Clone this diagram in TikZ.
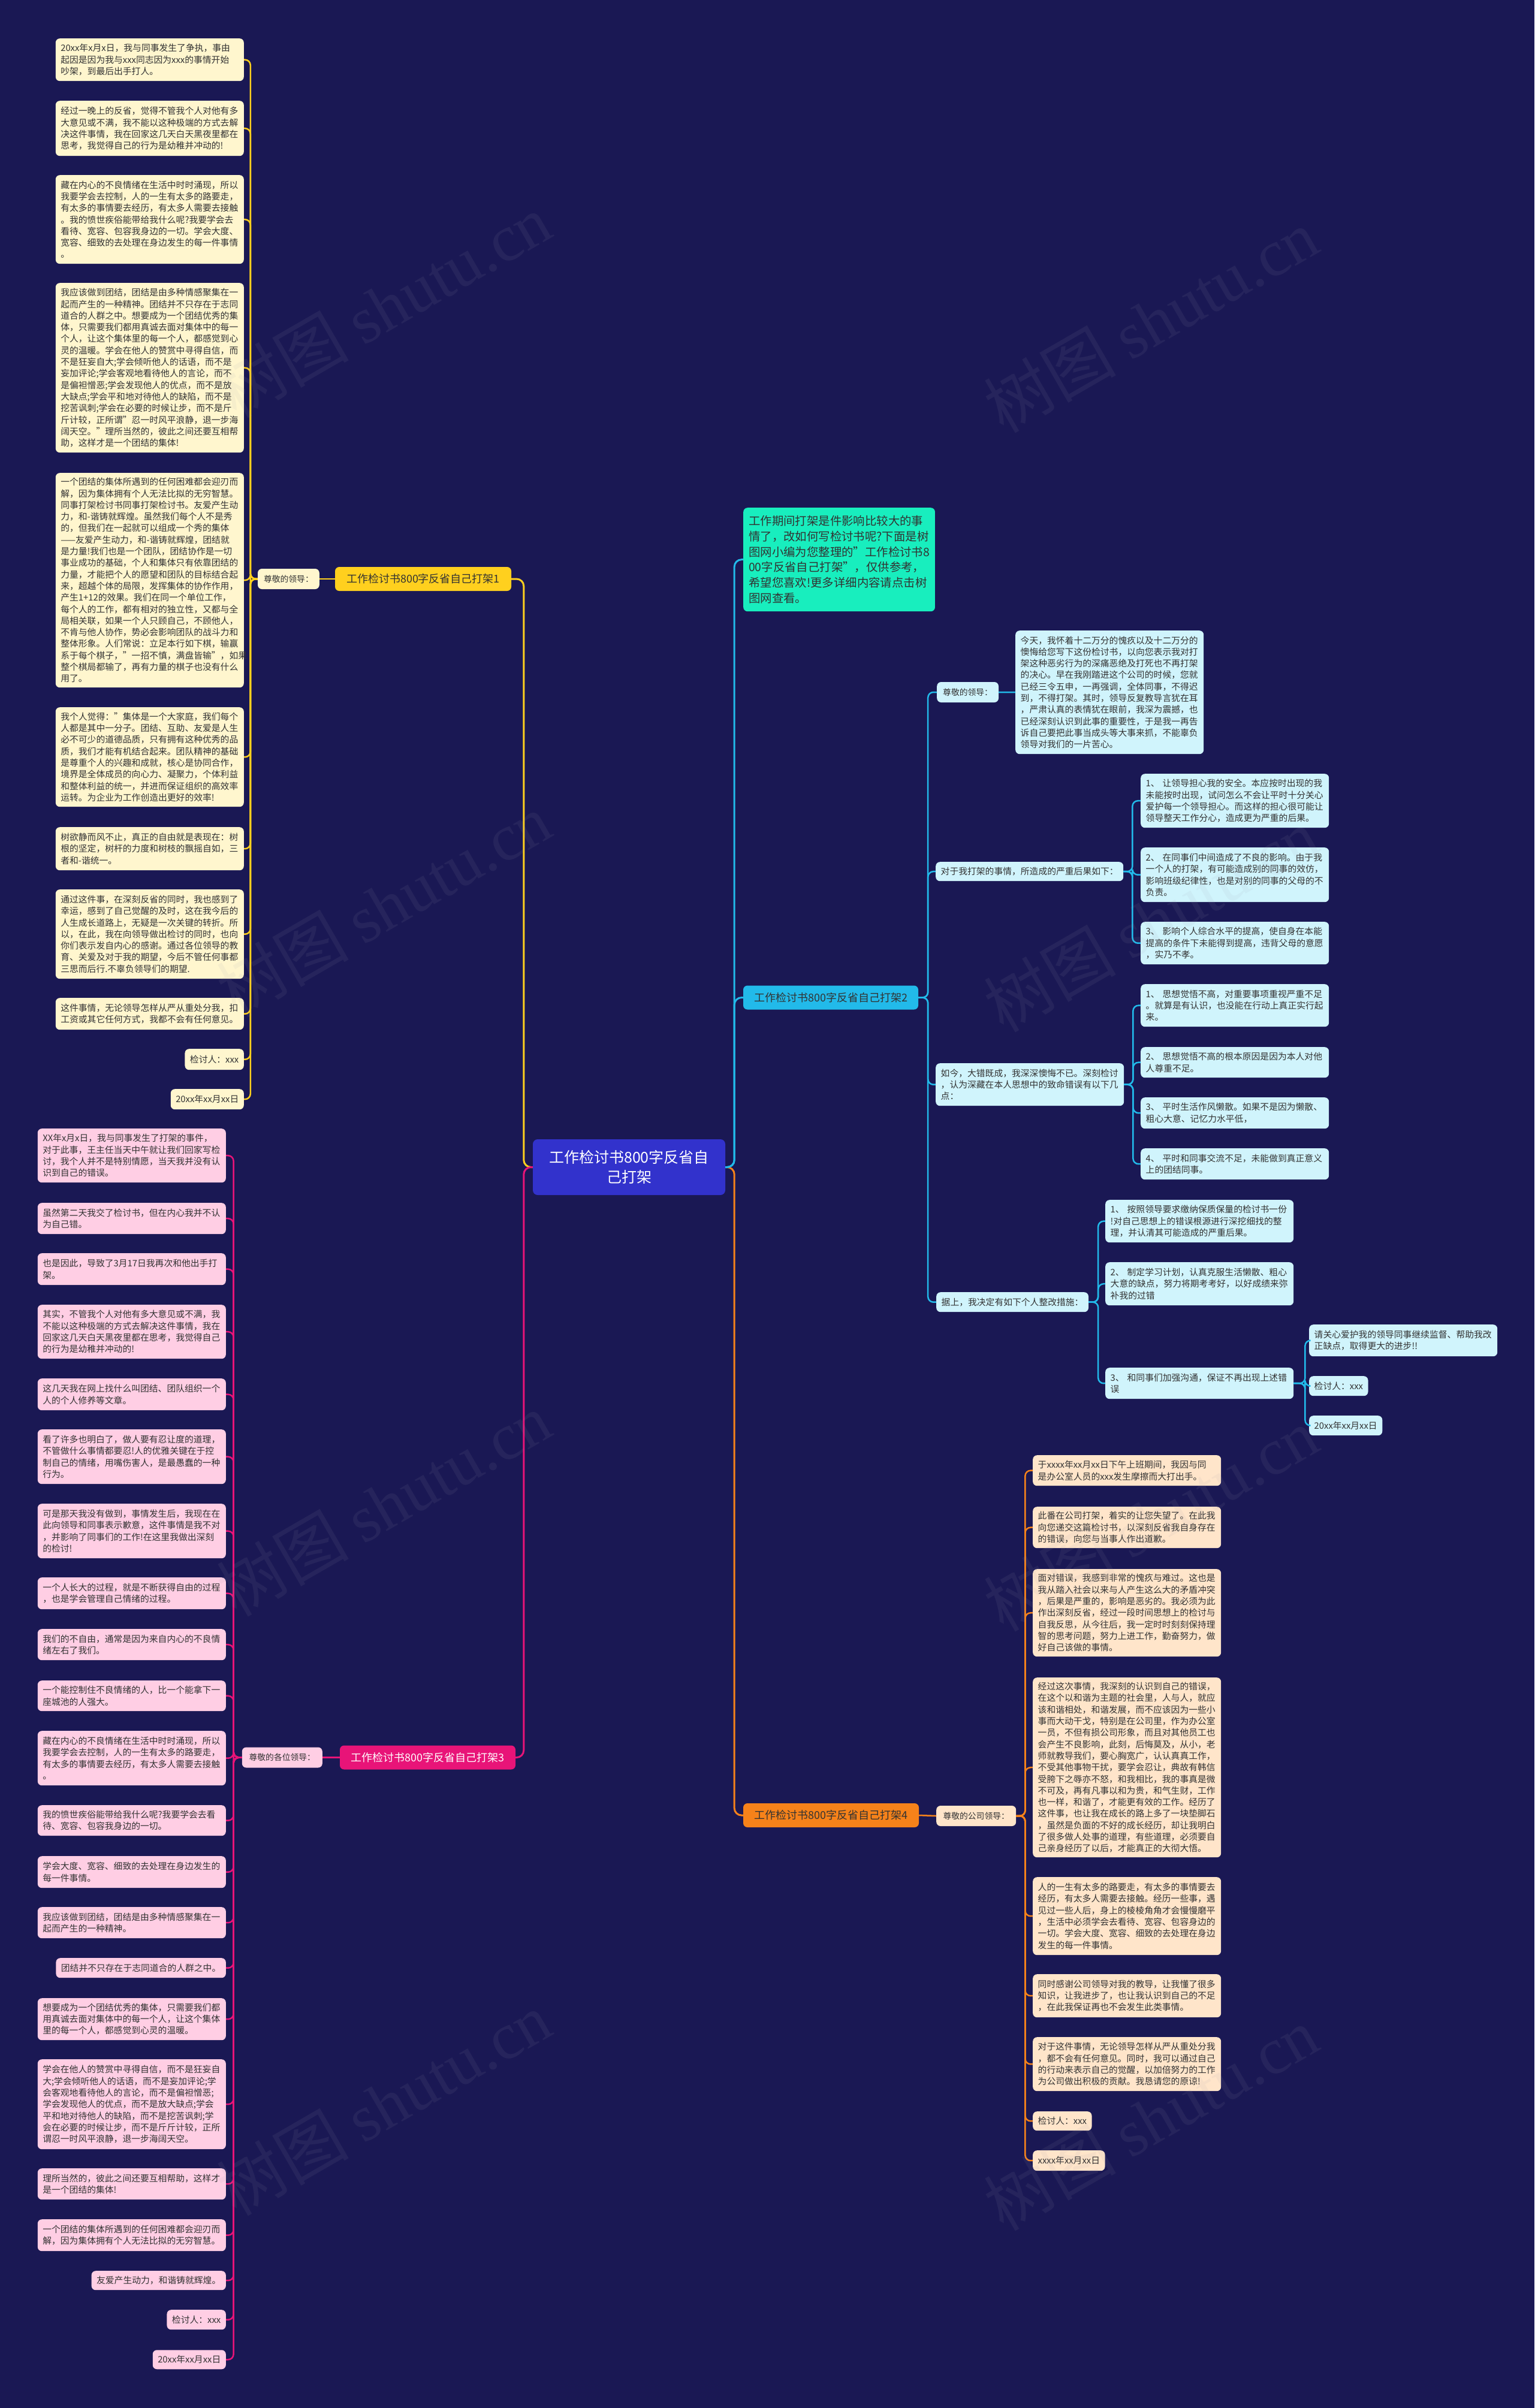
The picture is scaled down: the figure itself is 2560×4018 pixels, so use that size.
\documentclass[tikz,border=0pt]{standalone}
\usepackage{fontspec}
\setmainfont{Noto Sans CJK SC}
\newfontfamily\wmserif{Liberation Serif}
\definecolor{bg}{RGB}{26,24,84}
\definecolor{cen}{RGB}{50,50,204}
\definecolor{grn}{RGB}{24,238,190}
\definecolor{yel}{RGB}{255,208,30}
\definecolor{yelf}{RGB}{255,246,206}
\definecolor{cya}{RGB}{34,186,234}
\definecolor{cyaf}{RGB}{208,244,252}
\definecolor{mag}{RGB}{232,20,120}
\definecolor{magf}{RGB}{255,206,228}
\definecolor{org}{RGB}{246,130,26}
\definecolor{orgf}{RGB}{255,229,202}
\definecolor{txt}{RGB}{50,50,50}
\newcommand\lfnt{\fontsize{14.8}{19.3}\selectfont}
\newcommand\gfnt{\fontsize{13.8}{18}\selectfont}
\newcommand\brfnt{\fontsize{18}{22}\selectfont}
\newcommand\connL[4]{\draw[lc,#1] (#2.west) -- ++(-#4,0) |- (#3.east);}
\newcommand\connR[4]{\draw[lc,#1] (#2.east) -- ++(#4,0) |- (#3.west);}
\tikzset{
  lc/.style={line width=2.5pt, rounded corners=9pt},
  mainc/.style={line width=3pt, rounded corners=12pt},
  box/.style={rounded corners=7pt, align=left, inner xsep=8.5pt, inner ysep=0pt, text=txt, font=\lfnt},
  wide/.style={text width=297pt},
  lfL/.style={box, anchor=north east},
  lfR/.style={box, anchor=north west},
  yl/.style={lfL, fill=yelf},
  pl/.style={lfL, fill=magf},
  cl/.style={lfR, fill=cyaf},
  ol/.style={lfR, fill=orgf},
  greet/.style={rounded corners=7pt, inner xsep=10pt, inner ysep=0pt, text=txt, font=\gfnt, minimum height=34pt},
  brn/.style={rounded corners=7pt, inner xsep=10pt, inner ysep=0pt, font=\brfnt, minimum height=40pt},
  wm/.style={rotate=30, text={rgb,255:red,160;green,160;blue,175}, opacity=0.09, font=\fontsize{110}{110}\selectfont}
}
\begin{document}
\begin{tikzpicture}[x=1pt,y=-1pt]
\path[use as bounding box] (0,0) rectangle (2560,4018);
\fill[bg] (0,0) rectangle (2560,4018);

% ---------------- center and main branches
\node[fill=cen, text=white, rounded corners=8pt, align=center, font=\fontsize{25}{33}\selectfont, minimum width=321pt, minimum height=93pt, inner sep=0pt] (c) at (1049.5,1947.5) {工作检讨书800字反省自\\己打架};
\node[brn, fill=yel, text=txt, minimum width=294pt] (b1) at (706,966) {工作检讨书800字反省自己打架1};
\node[brn, fill=cya, text=txt, minimum width=292pt] (b2) at (1386,1664.5) {工作检讨书800字反省自己打架2};
\node[brn, fill=mag, text=white, minimum width=293pt] (b3) at (713.5,2932.5) {工作检讨书800字反省自己打架3};
\node[brn, fill=org, text=txt, minimum width=293pt] (b4) at (1386.5,3029) {工作检讨书800字反省自己打架4};
\node[rounded corners=7pt, fill=grn, text=txt, align=left, anchor=north west, minimum width=316pt, minimum height=173pt, inner xsep=9pt, inner ysep=0pt, font=\fontsize{19.4}{25.7}\selectfont] (gr) at (1240,847) {工作期间打架是件影响比较大的事\\情了，改如何写检讨书呢?下面是树\\图网小编为您整理的"工作检讨书8\\00字反省自己打架"，仅供参考，\\希望您喜欢!更多详细内容请点击树\\图网查看。};

\draw[mainc, yel] (c.west) -- ++(-15,0) |- (b1.east);
\draw[mainc, mag] (c.west) -- ++(-15,0) |- (b3.east);
\draw[mainc, org] (c.east) -- ++(15,0) |- (b4.west);
\draw[mainc, cya] (c.east) -- ++(15,0) |- (b2.west);
\draw[mainc, cya] (c.east) -- ++(15,0) |- (gr.west);

% ---------------- branch 1
\node[greet, fill=yelf, anchor=east, minimum width=101pt] (g1) at (533,966) {尊敬的领导：};
\draw[lc, yel] (b1.west) -- (g1.east);
\node[yl, wide, minimum height=71pt] (a1) at (407,64) {20xx年x月x日，我与同事发生了争执，事由\\起因是因为我与xxx同志因为xxx的事情开始\\吵架，到最后出手打人。};
\node[yl, wide, minimum height=92pt] (a2) at (407,168) {经过一晚上的反省，觉得不管我个人对他有多\\大意见或不满，我不能以这种极端的方式去解\\决这件事情，我在回家这几天白天黑夜里都在\\思考，我觉得自己的行为是幼稚并冲动的!};
\node[yl, wide, minimum height=148pt] (a3) at (407,292) {藏在内心的不良情绪在生活中时时涌现，所以\\我要学会去控制，人的一生有太多的路要走，\\有太多的事情要去经历，有太多人需要去接触\\。我的愤世疾俗能带给我什么呢?我要学会去\\看待、宽容、包容我身边的一切。学会大度、\\宽容、细致的去处理在身边发生的每一件事情\\。};
\node[yl, wide, minimum height=283pt] (a4) at (407,472) {我应该做到团结，团结是由多种情感聚集在一\\起而产生的一种精神。团结并不只存在于志同\\道合的人群之中。想要成为一个团结优秀的集\\体，只需要我们都用真诚去面对集体中的每一\\个人，让这个集体里的每一个人，都感觉到心\\灵的温暖。学会在他人的赞赏中寻得自信，而\\不是狂妄自大;学会倾听他人的话语，而不是\\妄加评论;学会客观地看待他人的言论，而不\\是偏袒憎恶;学会发现他人的优点，而不是放\\大缺点;学会平和地对待他人的缺陷，而不是\\挖苦讽刺;学会在必要的时候让步，而不是斤\\斤计较，正所谓"忍一时风平浪静，退一步海\\阔天空。"理所当然的，彼此之间还要互相帮\\助，这样才是一个团结的集体!};
\node[yl, wide, minimum height=358pt] (a5) at (407,789) {一个团结的集体所遇到的任何困难都会迎刃而\\解，因为集体拥有个人无法比拟的无穷智慧。\\同事打架检讨书同事打架检讨书。友爱产生动\\力，和-谐铸就辉煌。虽然我们每个人不是秀\\的，但我们在一起就可以组成一个秀的集体\\——友爱产生动力，和-谐铸就辉煌，团结就\\是力量!我们也是一个团队，团结协作是一切\\事业成功的基础，个人和集体只有依靠团结的\\力量，才能把个人的愿望和团队的目标结合起\\来，超越个体的局限，发挥集体的协作作用，\\产生1+12的效果。我们在同一个单位工作，\\每个人的工作，都有相对的独立性，又都与全\\局相关联，如果一个人只顾自己，不顾他人，\\不肯与他人协作，势必会影响团队的战斗力和\\整体形象。人们常说：立足本行如下棋，输赢\\系于每个棋子，"一招不慎，满盘皆输"，如果\\整个棋局都输了，再有力量的棋子也没有什么\\用了。};
\node[yl, wide, minimum height=166pt] (a6) at (407,1180) {我个人觉得："集体是一个大家庭，我们每个\\人都是其中一分子。团结、互助、友爱是人生\\必不可少的道德品质，只有拥有这种优秀的品\\质，我们才能有机结合起来。团队精神的基础\\是尊重个人的兴趣和成就，核心是协同合作，\\境界是全体成员的向心力、凝聚力，个体利益\\和整体利益的统一，并进而保证组织的高效率\\运转。为企业为工作创造出更好的效率!};
\node[yl, wide, minimum height=72pt] (a7) at (407,1380) {树欲静而风不止，真正的自由就是表现在：树\\根的坚定，树杆的力度和树枝的飘摇自如，三\\者和-谐统一。};
\node[yl, wide, minimum height=149pt] (a8) at (407,1484) {通过这件事，在深刻反省的同时，我也感到了\\幸运，感到了自己觉醒的及时，这在我今后的\\人生成长道路上，无疑是一次关键的转折。所\\以，在此，我在向领导做出检讨的同时，也向\\你们表示发自内心的感谢。通过各位领导的教\\育、关爱及对于我的期望，今后不管任何事都\\三思而后行.不辜负领导们的期望.};
\node[yl, wide, minimum height=53pt] (a9) at (407,1665) {这件事情，无论领导怎样从严从重处分我，扣\\工资或其它任何方式，我都不会有任何意见。};
\node[yl, minimum height=35pt] (a10) at (407,1750) {检讨人：xxx};
\node[yl, minimum height=34pt] (a11) at (407,1817) {20xx年xx月xx日};
\foreach \n in {a1,a2,a3,a4,a5,a6,a7,a8,a9,a10,a11} {\connL{yel}{g1}{\n}{12}}

% ---------------- branch 3
\node[greet, fill=magf, anchor=east, minimum width=134pt] (g3) at (538,2932.5) {尊敬的各位领导：};
\draw[lc, mag] (b3.west) -- (g3.east);
\node[pl, wide, minimum height=90pt] (p1) at (377,1883) {XX年x月x日，我与同事发生了打架的事件，\\对于此事，王主任当天中午就让我们回家写检\\讨，我个人并不是特别情愿，当天我并没有认\\识到自己的错误。};
\node[pl, wide, minimum height=52pt] (p2) at (377,2007) {虽然第二天我交了检讨书，但在内心我并不认\\为自己错。};
\node[pl, wide, minimum height=53pt] (p3) at (377,2091) {也是因此，导致了3月17日我再次和他出手打\\架。};
\node[pl, wide, minimum height=90pt] (p4) at (377,2177) {其实，不管我个人对他有多大意见或不满，我\\不能以这种极端的方式去解决这件事情，我在\\回家这几天白天黑夜里都在思考，我觉得自己\\的行为是幼稚并冲动的!};
\node[pl, wide, minimum height=53pt] (p5) at (377,2300) {这几天我在网上找什么叫团结、团队组织一个\\人的个人修养等文章。};
\node[pl, wide, minimum height=91pt] (p6) at (377,2385) {看了许多也明白了，做人要有忍让度的道理，\\不管做什么事情都要忍!人的优雅关键在于控\\制自己的情绪，用嘴伤害人，是最愚蠢的一种\\行为。};
\node[pl, wide, minimum height=91pt] (p7) at (377,2509) {可是那天我没有做到，事情发生后，我现在在\\此向领导和同事表示歉意，这件事情是我不对\\，并影响了同事们的工作!在这里我做出深刻\\的检讨!};
\node[pl, wide, minimum height=53pt] (p8) at (377,2632) {一个人长大的过程，就是不断获得自由的过程\\，也是学会管理自己情绪的过程。};
\node[pl, wide, minimum height=52pt] (p9) at (377,2718) {我们的不自由，通常是因为来自内心的不良情\\绪左右了我们。};
\node[pl, wide, minimum height=51pt] (p10) at (377,2804) {一个能控制住不良情绪的人，比一个能拿下一\\座城池的人强大。};
\node[pl, wide, minimum height=91pt] (p11) at (377,2888) {藏在内心的不良情绪在生活中时时涌现，所以\\我要学会去控制，人的一生有太多的路要走，\\有太多的事情要去经历，有太多人需要去接触\\。};
\node[pl, wide, minimum height=51pt] (p12) at (377,3012) {我的愤世疾俗能带给我什么呢?我要学会去看\\待、宽容、包容我身边的一切。};
\node[pl, wide, minimum height=53pt] (p13) at (377,3097) {学会大度、宽容、细致的去处理在身边发生的\\每一件事情。};
\node[pl, wide, minimum height=52pt] (p14) at (377,3182) {我应该做到团结，团结是由多种情感聚集在一\\起而产生的一种精神。};
\node[pl, minimum height=33pt] (p15) at (377,3267) {团结并不只存在于志同道合的人群之中。};
\node[pl, wide, minimum height=70pt] (p16) at (377,3334) {想要成为一个团结优秀的集体，只需要我们都\\用真诚去面对集体中的每一个人，让这个集体\\里的每一个人，都感觉到心灵的温暖。};
\node[pl, wide, minimum height=150pt] (p17) at (377,3436) {学会在他人的赞赏中寻得自信，而不是狂妄自\\大;学会倾听他人的话语，而不是妄加评论;学\\会客观地看待他人的言论，而不是偏袒憎恶;\\学会发现他人的优点，而不是放大缺点;学会\\平和地对待他人的缺陷，而不是挖苦讽刺;学\\会在必要的时候让步，而不是斤斤计较，正所\\谓忍一时风平浪静，退一步海阔天空。};
\node[pl, wide, minimum height=52pt] (p18) at (377,3618) {理所当然的，彼此之间还要互相帮助，这样才\\是一个团结的集体!};
\node[pl, wide, minimum height=53pt] (p19) at (377,3703) {一个团结的集体所遇到的任何困难都会迎刃而\\解，因为集体拥有个人无法比拟的无穷智慧。};
\node[pl, minimum height=32pt] (p20) at (377,3789) {友爱产生动力，和谐铸就辉煌。};
\node[pl, minimum height=33pt] (p21) at (377,3854) {检讨人：xxx};
\node[pl, minimum height=32pt] (p22) at (377,3921) {20xx年xx月xx日};
\foreach \n in {p1,p2,p3,p4,p5,p6,p7,p8,p9,p10,p11,p12,p13,p14,p15,p16,p17,p18,p19,p20,p21,p22} {\connL{mag}{g3}{\n}{14}}

% ---------------- branch 2
\node[greet, fill=cyaf, anchor=west, minimum width=101pt] (g2) at (1563,1155) {尊敬的领导：};
\node[cl, wide, minimum height=206pt] (k0) at (1694,1052) {今天，我怀着十二万分的愧疚以及十二万分的\\懊悔给您写下这份检讨书，以向您表示我对打\\架这种恶劣行为的深痛恶绝及打死也不再打架\\的决心。早在我刚踏进这个公司的时候，您就\\已经三令五申，一再强调，全体同事，不得迟\\到，不得打架。其时，领导反复教导言犹在耳\\，严肃认真的表情犹在眼前，我深为震撼，也\\已经深刻认识到此事的重要性，于是我一再告\\诉自己要把此事当成头等大事来抓，不能辜负\\领导对我们的一片苦心。};
\draw[lc, cya] (g2.east) -- (k0.west);
\node[cl, minimum height=32pt] (dy) at (1561,1438) {对于我打架的事情，所造成的严重后果如下：};
\node[cl, wide, minimum height=90pt] (dy1) at (1903,1291) {1、 让领导担心我的安全。本应按时出现的我\\未能按时出现，试问怎么不会让平时十分关心\\爱护每一个领导担心。而这样的担心很可能让\\领导整天工作分心，造成更为严重的后果。};
\node[cl, wide, minimum height=91pt] (dy2) at (1903,1414) {2、 在同事们中间造成了不良的影响。由于我\\一个人的打架，有可能造成别的同事的效仿，\\影响班级纪律性，也是对别的同事的父母的不\\负责。};
\node[cl, wide, minimum height=71pt] (dy3) at (1903,1538) {3、 影响个人综合水平的提高，使自身在本能\\提高的条件下未能得到提高，违背父母的意愿\\，实乃不孝。};
\node[cl, wide, minimum height=71pt] (rj) at (1561,1774) {如今，大错既成，我深深懊悔不已。深刻检讨\\，认为深藏在本人思想中的致命错误有以下几\\点：};
\node[cl, wide, minimum height=71pt] (rj1) at (1903,1642) {1、 思想觉悟不高，对重要事项重视严重不足\\。就算是有认识，也没能在行动上真正实行起\\来。};
\node[cl, wide, minimum height=51pt] (rj2) at (1903,1747) {2、 思想觉悟不高的根本原因是因为本人对他\\人尊重不足。};
\node[cl, wide, minimum height=52pt] (rj3) at (1903,1831) {3、 平时生活作风懒散。如果不是因为懒散、\\粗心大意、记忆力水平低，};
\node[cl, wide, minimum height=52pt] (rj4) at (1903,1916) {4、 平时和同事交流不足，未能做到真正意义\\上的团结同事。};
\node[cl, minimum height=33pt] (js) at (1562,2156) {据上，我决定有如下个人整改措施：};
\node[cl, wide, minimum height=71pt] (js1) at (1844,2002) {1、 按照领导要求缴纳保质保量的检讨书一份\\!对自己思想上的错误根源进行深挖细找的整\\理，并认清其可能造成的严重后果。};
\node[cl, wide, minimum height=72pt] (js2) at (1844,2106) {2、 制定学习计划，认真克服生活懒散、粗心\\大意的缺点，努力将期考考好，以好成绩来弥\\补我的过错};
\node[cl, wide, minimum height=52pt] (js3) at (1844,2282) {3、 和同事们加强沟通，保证不再出现上述错\\误};
\node[cl, wide, minimum height=53pt] (s1) at (2184,2210) {请关心爱护我的领导同事继续监督、帮助我改\\正缺点，取得更大的进步!!};
\node[cl, minimum height=33pt] (s2) at (2184,2296) {检讨人：xxx};
\node[cl, minimum height=33pt] (s3) at (2184,2362) {20xx年xx月xx日};
\foreach \n in {g2,dy,rj,js} {\connR{cya}{b2}{\n}{16}}
\foreach \n in {dy1,dy2,dy3} {\connR{cya}{dy}{\n}{15}}
\foreach \n in {rj1,rj2,rj3,rj4} {\connR{cya}{rj}{\n}{15}}
\foreach \n in {js1,js2,js3} {\connR{cya}{js}{\n}{16}}
\foreach \n in {s1,s2,s3} {\connR{cya}{js3}{\n}{19}}

% ---------------- branch 4
\node[greet, fill=orgf, anchor=west, minimum width=133pt] (g4) at (1562,3030) {尊敬的公司领导：};
\draw[lc, org] (b4.east) -- (g4.west);
\node[ol, wide, minimum height=51pt] (o1) at (1723,2428) {于xxxx年xx月xx日下午上班期间，我因与同\\是办公室人员的xxx发生摩擦而大打出手。};
\node[ol, wide, minimum height=69pt] (o2) at (1723,2514) {此番在公司打架，着实的让您失望了。在此我\\向您递交这篇检讨书，以深刻反省我自身存在\\的错误，向您与当事人作出道歉。};
\node[ol, wide, minimum height=146pt] (o3) at (1723,2618) {面对错误，我感到非常的愧疚与难过。这也是\\我从踏入社会以来与人产生这么大的矛盾冲突\\，后果是严重的，影响是恶劣的。我必须为此\\作出深刻反省，经过一段时间思想上的检讨与\\自我反思，从今往后，我一定时时刻刻保持理\\智的思考问题，努力上进工作，勤奋努力，做\\好自己该做的事情。};
\node[ol, wide, minimum height=300pt] (o4) at (1723,2799) {经过这次事情，我深刻的认识到自己的错误，\\在这个以和谐为主题的社会里，人与人，就应\\该和谐相处，和谐发展，而不应该因为一些小\\事而大动干戈，特别是在公司里，作为办公室\\一员，不但有损公司形象，而且对其他员工也\\会产生不良影响，此刻，后悔莫及，从小，老\\师就教导我们，要心胸宽广，认认真真工作，\\不受其他事物干扰，要学会忍让，典故有韩信\\受胯下之辱亦不怒，和我相比，我的事真是微\\不可及，再有凡事以和为贵，和气生财，工作\\也一样，和谐了，才能更有效的工作。经历了\\这件事，也让我在成长的路上多了一块垫脚石\\，虽然是负面的不好的成长经历，却让我明白\\了很多做人处事的道理，有些道理，必须要自\\己亲身经历了以后，才能真正的大彻大悟。};
\node[ol, wide, minimum height=130pt] (o5) at (1723,3132) {人的一生有太多的路要走，有太多的事情要去\\经历，有太多人需要去接触。经历一些事，遇\\见过一些人后，身上的棱棱角角才会慢慢磨平\\，生活中必须学会去看待、宽容、包容身边的\\一切。学会大度、宽容、细致的去处理在身边\\发生的每一件事情。};
\node[ol, wide, minimum height=72pt] (o6) at (1723,3294) {同时感谢公司领导对我的教导，让我懂了很多\\知识，让我进步了，也让我认识到自己的不足\\，在此我保证再也不会发生此类事情。};
\node[ol, wide, minimum height=90pt] (o7) at (1723,3399) {对于这件事情，无论领导怎样从严从重处分我\\，都不会有任何意见。同时，我可以通过自己\\的行动来表示自己的觉醒，以加倍努力的工作\\为公司做出积极的贡献。我恳请您的原谅!};
\node[ol, minimum height=32pt] (o8) at (1723,3523) {检讨人：xxx};
\node[ol, minimum height=34pt] (o9) at (1723,3588) {xxxx年xx月xx日};
\foreach \n in {o1,o2,o3,o4,o5,o6,o7,o8,o9} {\connR{org}{g4}{\n}{15}}

% ---------------- watermarks
\foreach \y in {510,1510,2510,3510} {
  \node[wm] (wl\y) at (640,\y) {树图 {\wmserif shutu.cn}};
  \node[wm] (wr\y) at (1920,\y+25) {树图 {\wmserif shutu.cn}};
}
\end{tikzpicture}
\end{document}
